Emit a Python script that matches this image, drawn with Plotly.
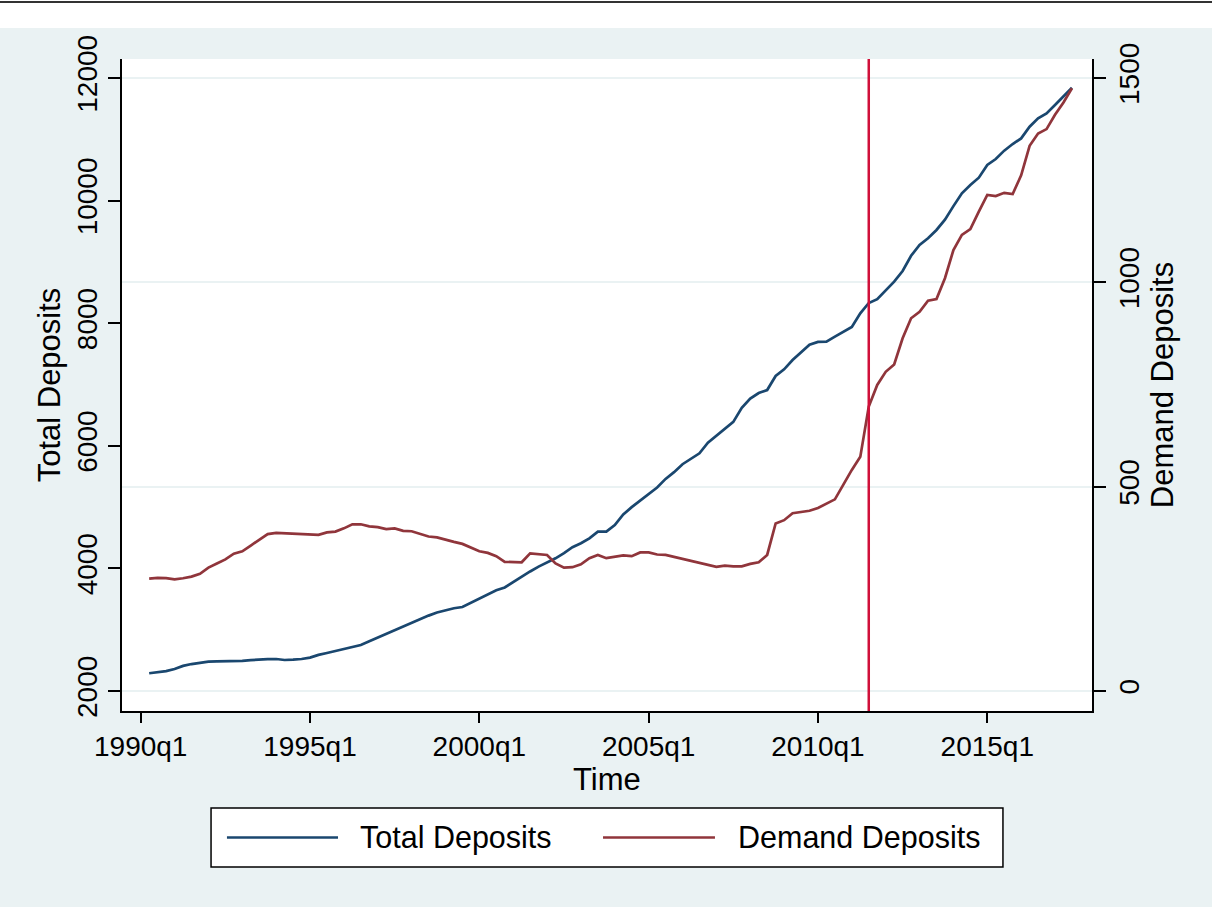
import plotly.graph_objects as go

# quarterly series, 1990q2 .. 2017q3
start_year, start_q = 1990, 2
total_deposits = [
    2290, 2310, 2325, 2360, 2410, 2440, 2460, 2478, 2482, 2484,
    2488, 2492, 2505, 2517, 2520, 2522, 2506, 2512, 2522, 2545,
    2590, 2620, 2650, 2690, 2720, 2750, 2810, 2870, 2930, 3000,
    3060, 3120, 3170, 3230, 3280, 3320, 3350, 3370, 3440, 3500,
    3570, 3645, 3690, 3780, 3860, 3950, 4030, 4100, 4165, 4250,
    4345, 4410, 4490, 4599, 4600, 4708, 4880, 5000, 5110, 5210,
    5320, 5460, 5570, 5700, 5790, 5877, 6050, 6160, 6280, 6390,
    6620, 6770, 6860, 6910, 7139, 7248, 7400, 7530, 7650, 7695,
    7700, 7780, 7860, 7940, 8160, 8330, 8393, 8542, 8677, 8852,
    9100, 9276, 9385, 9521, 9690, 9910, 10120, 10254, 10374, 10581,
    10679, 10815, 10923, 11015, 11205, 11342, 11423, 11560, 11700, 11842,
]
demand_deposits = [
    275, 277, 276, 273, 276, 280, 287, 302, 312, 322,
    336, 342, 356, 370, 384, 387, 386, 386, 384, 383,
    382, 388, 390, 398, 408, 408, 403, 401, 396, 398,
    392, 391, 385, 378, 376, 370, 365, 360, 350, 342,
    338, 330, 316, 316, 315, 337, 335, 333, 312, 302,
    303, 310, 325, 333, 325, 328, 332, 330, 339, 339,
    334, 333, 328, 324, 319, 313, 309, 304, 307, 305,
    305, 311, 315, 333, 410, 418, 435, 438, 441, 448,
    459, 469, 505, 541, 573, 696, 749, 781, 799, 863,
    912, 928, 955, 959, 1010, 1079, 1116, 1130, 1173, 1214,
    1211, 1219, 1216, 1262, 1334, 1364, 1375, 1410, 1440, 1475,
]
tick_labels = ["1990q1", "1995q1", "2000q1", "2005q1", "2010q1", "2015q1"]
break_quarter = "2011q3"


def q_index(label):
    y, q = label.split("q")
    return (int(y) - 1990) * 4 + int(q) - 1


x_vals = [(start_year - 1990) * 4 + start_q - 1 + i for i in range(len(total_deposits))]
tick_vals = [q_index(t) for t in tick_labels]

NAVY = "#1A476F"
MAROON = "#90353B"
BG = "#EAF2F3"
FAMILY = "Liberation Sans, Arial, sans-serif"
TICK_FONT = dict(family=FAMILY, size=28, color="black")
TITLE_FONT = dict(family=FAMILY, size=31, color="black")
LEGEND_FONT = dict(family=FAMILY, size=30.5, color="black")

fig = go.Figure()
fig.add_trace(go.Scatter(x=x_vals, y=total_deposits, mode="lines", name="Total Deposits",
                         line=dict(color=NAVY, width=2.7), yaxis="y"))
fig.add_trace(go.Scatter(x=x_vals, y=demand_deposits, mode="lines", name="Demand Deposits",
                         line=dict(color=MAROON, width=2.7), yaxis="y2"))

axis_common = dict(showline=True, linecolor="black", linewidth=1.5, ticks="outside",
                   tickcolor="black", tickwidth=1.5, zeroline=False, tickfont=TICK_FONT)

fig.update_layout(
    width=1212, height=907,
    margin=dict(l=122, r=120, t=59, b=196),
    paper_bgcolor=BG, plot_bgcolor="white",
    font=TICK_FONT, showlegend=False,
    xaxis=dict(axis_common, range=[-2.21, 112.37], tickvals=tick_vals, ticktext=tick_labels,
               ticklen=10, showgrid=False),
    yaxis=dict(axis_common, range=[1674, 12310], tickvals=[2000, 4000, 6000, 8000, 10000, 12000],
               tickformat="d", ticklen=12, tickangle=-90, showgrid=False,
               title=dict(text="Total Deposits", font=TITLE_FONT, standoff=2)),
    yaxis2=dict(axis_common, range=[-48.9, 1546.5], tickvals=[0, 500, 1000, 1500],
                tickformat="d", ticklen=12, tickangle=-90, overlaying="y", side="right",
                showgrid=True, gridcolor=BG, gridwidth=2,
                title=dict(text="Demand Deposits", font=TITLE_FONT, standoff=2)),
)

# x title sits tight under the tick labels
fig.add_annotation(x=0.5, y=-0.0752, xref="paper", yref="paper", text="Time",
                   showarrow=False, xanchor="center", yanchor="top", font=TITLE_FONT)

# white band and rule at the very top
fig.add_shape(type="rect", xref="paper", yref="paper", x0=-0.13, x1=1.13, y0=1.0475, y1=1.10,
              fillcolor="white", line_width=0, layer="below")
fig.add_shape(type="line", xref="paper", yref="paper", x0=-0.13, x1=1.13, y0=1.0875, y1=1.0875,
              line=dict(color="#333333", width=2))

# break line
fig.add_vline(x=q_index(break_quarter), line=dict(color="#D0103A", width=2.5))

# legend box drawn by hand to match the long line samples
fig.add_shape(type="rect", xref="paper", yref="paper", x0=0.0918, x1=0.9082, y0=-0.2393, y1=-0.1488,
              fillcolor="white", line=dict(color="black", width=1.5))
ly = -0.194
fig.add_shape(type="line", xref="paper", yref="paper", x0=0.1082, x1=0.2227, y0=ly, y1=ly,
              line=dict(color=NAVY, width=2.7))
fig.add_shape(type="line", xref="paper", yref="paper", x0=0.4959, x1=0.6113, y0=ly, y1=ly,
              line=dict(color=MAROON, width=2.7))
fig.add_annotation(x=0.2433, y=ly, xref="paper", yref="paper", text="Total Deposits",
                   showarrow=False, xanchor="left", yanchor="middle", font=LEGEND_FONT)
fig.add_annotation(x=0.6330, y=ly, xref="paper", yref="paper", text="Demand Deposits",
                   showarrow=False, xanchor="left", yanchor="middle", font=LEGEND_FONT)

fig.write_html("out.html", config={"displayModeBar": False},
               post_script="document.body.style.margin='0';")
